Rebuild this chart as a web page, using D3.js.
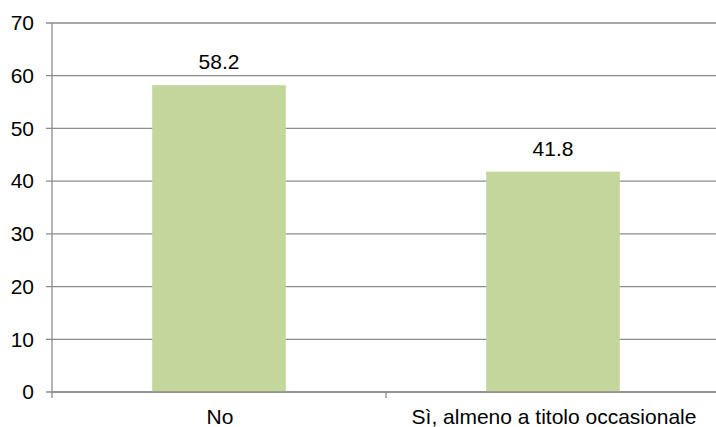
<!DOCTYPE html>
<html><head><meta charset="utf-8">
<script src="https://cdn.jsdelivr.net/npm/d3@7"></script>
<style>body{margin:0;background:#fff}svg{display:block}</style>
</head><body>
<svg id="c" width="716" height="427"></svg>
<script>
const categories = ["No", "Sì, almeno a titolo occasionale"];
const values = [58.2, 41.8];
const yTicks = [0, 10, 20, 30, 40, 50, 60, 70];

(function () {
const svg = d3.select("#c");
const mLeft = 52, mRight = 720, mTop = 23, mBottom = 392;
const font = "Liberation Sans, Arial, sans-serif";
const grid = "#8c8c8c";
const fs = 21;

const x = d3.scaleBand().domain(categories).range([mLeft, mRight]).paddingInner(0.6).paddingOuter(0.3);
const y = d3.scaleLinear().domain([0, 70]).range([mBottom, mTop]);

svg.append("g").selectAll("line").data(yTicks).join("line")
  .attr("x1", mLeft - 6).attr("x2", mRight)
  .attr("y1", d => y(d)).attr("y2", d => y(d))
  .attr("stroke", grid).attr("stroke-width", 1.3);

svg.append("line").attr("x1", mLeft).attr("x2", mLeft).attr("y1", mTop).attr("y2", mBottom + 6)
  .attr("stroke", grid).attr("stroke-width", 1.3);

const step = x.step();
svg.append("line").attr("x1", mLeft + step).attr("x2", mLeft + step)
  .attr("y1", mBottom).attr("y2", mBottom + 6).attr("stroke", grid).attr("stroke-width", 1.3);

svg.append("g").selectAll("text").data(yTicks).join("text")
  .attr("x", 34).attr("y", d => y(d)).attr("dy", "0.35em")
  .attr("text-anchor", "end").attr("font-family", font).attr("font-size", fs).attr("fill", "#000")
  .text(d => d);

svg.append("g").selectAll("rect").data(values).join("rect")
  .attr("x", (d, i) => x(categories[i])).attr("width", x.bandwidth())
  .attr("y", d => y(d)).attr("height", d => y(0) - y(d))
  .attr("fill", "#c3d69b");

svg.append("line").attr("x1", mLeft).attr("x2", mRight).attr("y1", y(0)).attr("y2", y(0))
  .attr("stroke", grid).attr("stroke-width", 1.3);

svg.append("g").selectAll("text").data(values).join("text")
  .attr("x", (d, i) => x(categories[i]) + x.bandwidth() / 2)
  .attr("y", d => y(d) - 16)
  .attr("text-anchor", "middle").attr("font-family", font).attr("font-size", fs).attr("fill", "#000")
  .text(d => d.toFixed(1));

svg.append("g").selectAll("text").data(categories).join("text")
  .attr("x", d => x(d) + x.bandwidth() / 2 + 1).attr("y", 424)
  .attr("text-anchor", "middle").attr("font-family", font).attr("font-size", fs).attr("fill", "#000")
  .text(d => d);
})();
</script>
</body></html>
